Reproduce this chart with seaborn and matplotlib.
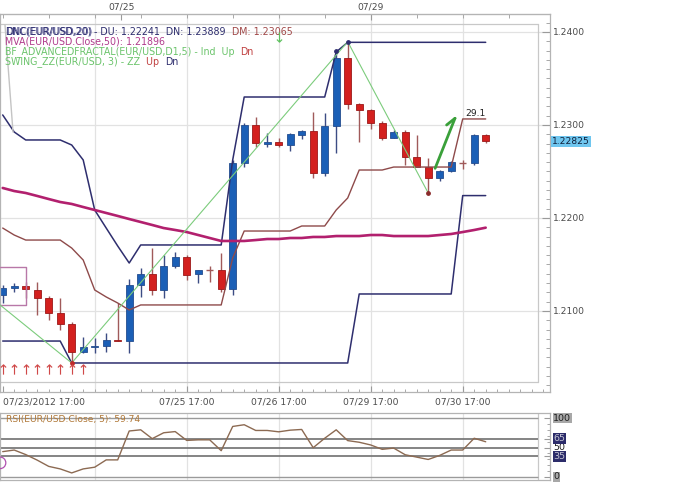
import matplotlib
matplotlib.use('Agg')
import matplotlib.pyplot as plt
import matplotlib.transforms as mtrans
from matplotlib.ticker import MultipleLocator
import numpy as np
import pandas as pd
import seaborn as sns

# EUR/USD 3-hour bars, bar 0 = 07/23/2012 17:00
OPEN = [1.21172, 1.21247, 1.21269, 1.21226, 1.21140, 1.20978, 1.20860, 1.20559, 1.20613, 1.20624,
        1.20688, 1.20677, 1.21280, 1.21398, 1.21226, 1.21484, 1.21581, 1.21398, 1.21441, 1.21441,
        1.21237, 1.22591, 1.23000, 1.22796, 1.22817, 1.22785, 1.22892, 1.22935, 1.22484, 1.22989,
        1.23720, 1.23226, 1.23161, 1.23022, 1.22860, 1.22925, 1.22656, 1.22548, 1.22430, 1.22505,
        1.22591, 1.22591, 1.22892]
HIGH = [1.21280, 1.21301, 1.21312, 1.21312, 1.21161, 1.21140, 1.20882, 1.20720, 1.20710, 1.20763,
        1.21086, 1.21344, 1.21462, 1.21677, 1.21602, 1.21634, 1.21602, 1.21441, 1.21484, 1.21624,
        1.22624, 1.23022, 1.23086, 1.22914, 1.22860, 1.22914, 1.22946, 1.23140, 1.23129, 1.23796,
        1.23896, 1.23237, 1.23172, 1.23043, 1.22946, 1.22946, 1.22892, 1.22645, 1.22516, 1.22613,
        1.22624, 1.22903, 1.22903]
LOW = [1.21086, 1.21204, 1.21140, 1.20957, 1.20903, 1.20796, 1.20441, 1.20548, 1.20548, 1.20559,
       1.20677, 1.20548, 1.21151, 1.21172, 1.21140, 1.21462, 1.21333, 1.21301, 1.21312, 1.21204,
       1.21172, 1.22548, 1.22763, 1.22763, 1.22763, 1.22720, 1.22849, 1.22430, 1.22452, 1.22699,
       1.23172, 1.22817, 1.22957, 1.22839, 1.22860, 1.22570, 1.22548, 1.22269, 1.22398, 1.22495,
       1.22527, 1.22570, 1.22806]
CLOSE = [1.21247, 1.21269, 1.21237, 1.21140, 1.20978, 1.20860, 1.20559, 1.20613, 1.20624, 1.20688,
         1.20677, 1.21280, 1.21398, 1.21226, 1.21484, 1.21581, 1.21387, 1.21441, 1.21441, 1.21237,
         1.22591, 1.23000, 1.22806, 1.22817, 1.22785, 1.22903, 1.22935, 1.22484, 1.22989, 1.23720,
         1.23226, 1.23161, 1.23022, 1.22860, 1.22925, 1.22656, 1.22548, 1.22430, 1.22505, 1.22602,
         1.22591, 1.22892, 1.22825]

# Donchian channel (20)
DC_UPPER = [1.23108, 1.22925, 1.22839, 1.22839, 1.22839, 1.22839, 1.22785, 1.22624, 1.22086, 1.21892,
            1.21699, 1.21516, 1.21710, 1.21710, 1.21710, 1.21710, 1.21710, 1.21710, 1.21710, 1.21710,
            1.22624, 1.23301, 1.23301, 1.23301, 1.23301, 1.23301, 1.23301, 1.23301, 1.23301, 1.23785,
            1.23889, 1.23889, 1.23889, 1.23889, 1.23889, 1.23889, 1.23889, 1.23889, 1.23889, 1.23889,
            1.23889, 1.23889, 1.23889]
DC_LOWER = [1.20677, 1.20677, 1.20677, 1.20677, 1.20677, 1.20677, 1.20441, 1.20441, 1.20441, 1.20441,
            1.20441, 1.20441, 1.20441, 1.20441, 1.20441, 1.20441, 1.20441, 1.20441, 1.20441, 1.20441,
            1.20441, 1.20441, 1.20441, 1.20441, 1.20441, 1.20441, 1.20441, 1.20441, 1.20441, 1.20441,
            1.20441, 1.21183, 1.21183, 1.21183, 1.21183, 1.21183, 1.21183, 1.21183, 1.21183, 1.21183,
            1.22241, 1.22241, 1.22241]
DC_MID = [1.21892, 1.21817, 1.21763, 1.21763, 1.21763, 1.21763, 1.21677, 1.21548, 1.21226, 1.21151,
          1.21086, 1.21011, 1.21065, 1.21065, 1.21065, 1.21065, 1.21065, 1.21065, 1.21065, 1.21065,
          1.21570, 1.21860, 1.21860, 1.21860, 1.21860, 1.21860, 1.21914, 1.21914, 1.21914, 1.22086,
          1.22215, 1.22516, 1.22516, 1.22516, 1.22548, 1.22548, 1.22548, 1.22548, 1.22548, 1.22548,
          1.23065, 1.23065, 1.23065]
MVA50 = [1.22323, 1.22290, 1.22269, 1.22237, 1.22204, 1.22172, 1.22151, 1.22118, 1.22086, 1.22054,
         1.22022, 1.21989, 1.21957, 1.21925, 1.21892, 1.21871, 1.21849, 1.21817, 1.21785, 1.21753,
         1.21753, 1.21753, 1.21763, 1.21774, 1.21774, 1.21785, 1.21785, 1.21796, 1.21796, 1.21806,
         1.21806, 1.21806, 1.21817, 1.21817, 1.21806, 1.21806, 1.21806, 1.21806, 1.21817, 1.21828,
         1.21849, 1.21871, 1.21896]
RSI5 = [43, 45.7, 38, 28.6, 18, 13.7, 6.9, 13.7, 16.6, 29, 29, 78, 80, 65, 75, 77, 62, 63, 63, 44.6,
        85.7, 88.6, 78.9, 78.9, 76.6, 79.4, 80.6, 49.7, 65.7, 80, 61.7, 58.9, 54.3, 46.9, 49, 37.7,
        33.7, 29.7, 36.6, 45.7, 45.7, 65.7, 59.74]

# swing zigzag vertices (bar, price)
ZZ_BAR = [-0.23, 6, 30, 37]
ZZ_PRICE = [1.21065, 1.20441, 1.23896, 1.22269]
FRACTAL_UP_BARS = [0, 1, 2, 3, 4, 5, 6, 7]
FRACTAL_UP_LEVEL = 1.20376
FRACTAL_DN_BAR = 24
FRACTAL_DN_LEVEL = 1.23946
PEN_BAR = [37.6, 39.33, 38.6]
PEN_PRICE = [1.22534, 1.23072, 1.23000]

BOTTOM_TICKS = [0, 16, 24, 32, 40]
BOTTOM_LABELS = ['07/23/2012 17:00', '07/25 17:00', '07/26 17:00', '07/29 17:00', '07/30 17:00']
TOP_TICKS = [10.33, 32]
TOP_LABELS = ['07/25', '07/29']
DAY_GRID = [8, 16, 24, 32, 40]
PRICE_TICKS = [1.21, 1.22, 1.23, 1.24]
RSI_TICKS = [0, 35, 50, 65, 100]

NAVY = '#2e2e6e'
BROWN = '#8e4a4a'
MAGENTA = '#b2206e'
ZZ_GREEN = '#7ccc7c'
UP_BLUE = '#1b5fb6'
DN_RED = '#d3201e'
GRID = '#e2e2e2'
BOX = '#c8c8c8'
LABEL = '#4a4a4a'

sns.set_style('white')
plt.rcParams['font.family'] = ['DejaVu Sans']
FS = 6.6
LEG_FS = 6.85

W, H = 690, 483
fig = plt.figure(figsize=(W / 100, H / 100), dpi=100)


def fig_rect(x0, y0, x1, y1):
    return [x0 / W, 1 - y1 / H, (x1 - x0) / W, (y1 - y0) / H]


# pixel -> data helpers for the price panel
def bx(px):
    return (px - 2.7) / 11.5


def py(y):
    return 1.24 - (y - 32) / 9300


ax = fig.add_axes(fig_rect(0, 14, 550, 392))
rax = fig.add_axes(fig_rect(0, 413, 550, 480))

bars = pd.DataFrame({'bar': np.arange(len(OPEN)), 'open': OPEN, 'high': HIGH,
                     'low': LOW, 'close': CLOSE})
up = bars['close'] > bars['open']
doji = bars['close'] == bars['open']

# grid and panel frame
for b in DAY_GRID:
    ax.axvline(b, color=GRID, lw=0.9, zorder=0)
    rax.axvline(b, color=GRID, lw=0.9, zorder=0)
for p in PRICE_TICKS:
    ax.axhline(p, color=GRID, lw=0.9, zorder=0)
ax.plot([bx(0), bx(538)], [py(24), py(24)], color=BOX, lw=0.9, zorder=1)
ax.plot([bx(0), bx(538)], [py(382), py(382)], color=BOX, lw=0.9, zorder=1)
ax.plot([bx(538), bx(538)], [py(24), py(382)], color=BOX, lw=0.9, zorder=1)

# candles
wick_col = np.where(up, '#3c4c84', '#a05a5a')
ax.vlines(bars['bar'], bars['low'], bars['high'], colors=wick_col, lw=1.0, zorder=2)
body = bars[~doji]
ax.bar(body['bar'], body['close'] - body['open'], bottom=body['open'], width=0.62,
       color=np.where(up[~doji], UP_BLUE, DN_RED),
       edgecolor=np.where(up[~doji], '#234c8e', '#9c1818'), lw=0.6, zorder=2.5)
dj = bars[doji]
ax.hlines(dj['close'], dj['bar'] - 0.3, dj['bar'] + 0.3, colors='#a05a5a', lw=1.0, zorder=2.5)

# indicators
sns.lineplot(x=bars['bar'], y=DC_UPPER, ax=ax, color=NAVY, linewidth=1.1, zorder=3)
sns.lineplot(x=bars['bar'], y=DC_LOWER, ax=ax, color=NAVY, linewidth=1.1, zorder=3)
sns.lineplot(x=bars['bar'], y=DC_MID, ax=ax, color=BROWN, linewidth=1.0, zorder=3)
sns.lineplot(x=bars['bar'], y=MVA50, ax=ax, color=MAGENTA, linewidth=1.9, zorder=3.2)
sns.lineplot(x=ZZ_BAR, y=ZZ_PRICE, ax=ax, color=ZZ_GREEN, linewidth=0.8, zorder=3.4, sort=False)

ax.scatter([29, 30], [HIGH[29], HIGH[30]], s=6, color=NAVY, zorder=4)
ax.scatter([37], [LOW[37]], s=6, color='#8a2a2a', zorder=4)
ax.scatter([6], [LOW[6]], s=6, color='#c02a2a', zorder=4)
ax.scatter(FRACTAL_UP_BARS, [FRACTAL_UP_LEVEL] * len(FRACTAL_UP_BARS), marker=r'$\uparrow$',
           s=55, color='#d04848', lw=0, zorder=4)
ax.scatter([FRACTAL_DN_BAR], [FRACTAL_DN_LEVEL], marker=r'$\downarrow$', s=55,
           color='#5cc05c', lw=0, zorder=4)
ax.plot(PEN_BAR[:2], PEN_PRICE[:2], color='#3aa03a', lw=2.0, solid_capstyle='round', zorder=4)
ax.plot(PEN_BAR[1:][::-1], PEN_PRICE[1:][::-1], color='#3aa03a', lw=2.0, solid_capstyle='round', zorder=4)
ax.text(bx(465), py(113), '29.1', fontsize=FS, color='#202020', ha='left', va='center', zorder=4)

# decorations at left edge
ax.plot([bx(0), bx(26), bx(26), bx(0)], [py(267), py(267), py(305), py(305)],
        color='#b878a8', lw=1.0, zorder=3)
ax.plot([bx(5), bx(13)], [py(25), py(132)], color='#c4c4c4', lw=1.0, zorder=3)

ax.set_xlim(bx(0), bx(550))
ax.set_ylim(py(392), py(14))
ax.set_xlabel('')
ax.set_ylabel('')

for side in ['top', 'bottom', 'left', 'right']:
    ax.spines[side].set_visible(True)
    ax.spines[side].set_color('#b4b4b4')
    ax.spines[side].set_linewidth(0.9)

ax.yaxis.tick_right()
ax.set_yticks(PRICE_TICKS)
ax.set_yticklabels([f'{p:.4f}' for p in PRICE_TICKS])
ax.yaxis.set_minor_locator(MultipleLocator(0.001))
ax.tick_params(axis='y', which='major', direction='in', length=6, width=0.8, color='#9a9a9a',
               pad=2, labelsize=FS, labelcolor=LABEL, left=False, right=True)
ax.tick_params(axis='y', which='minor', direction='in', length=3, width=0.7, color='#a8a8a8',
               left=False, right=True)

ax.set_xticks(BOTTOM_TICKS)
ax.set_xticklabels(BOTTOM_LABELS)
ax.get_xticklabels()[0].set_horizontalalignment('left')
ax.xaxis.set_minor_locator(MultipleLocator(1))
ax.tick_params(axis='x', which='major', direction='in', length=4, width=0.8, color='#9a9a9a',
               pad=4, labelsize=FS, labelcolor=LABEL, top=False, bottom=True)
ax.tick_params(axis='x', which='minor', direction='in', length=2.5, width=0.7, color='#a8a8a8',
               top=False, bottom=True)

top = ax.secondary_xaxis('top')
top.set_xticks(TOP_TICKS)
top.set_xticklabels(TOP_LABELS)
top.xaxis.set_minor_locator(MultipleLocator(4))
top.tick_params(which='major', direction='in', length=4, width=0.8, color='#9a9a9a', pad=1.5,
                labelsize=FS, labelcolor=LABEL)
top.tick_params(which='minor', direction='in', length=3, width=0.7, color='#a8a8a8')
top.spines['top'].set_color('#b4b4b4')

# last price tag
tr = mtrans.blended_transform_factory(ax.transAxes, ax.transData)
ax.text(1.003, CLOSE[-1], '1.22825', transform=tr, ha='left', va='center', fontsize=FS,
        color='#10203a', clip_on=False,
        bbox=dict(boxstyle='square,pad=0.12', fc='#6fc6ef', ec='none'))


# legend rows
def legend_row(x, y, parts):
    prev = fig.text(x / W, 1 - y / H, parts[0][0], color=parts[0][1], fontsize=LEG_FS,
                    ha='left', va='bottom')
    for s, c in parts[1:]:
        prev = ax.annotate(s, xy=(1, 0), xycoords=prev, color=c, fontsize=LEG_FS,
                           ha='left', va='bottom')
    return prev


fig.text(6.2 / W, 1 - 36.6 / H, 'DNC(EUR/USD,20)', color='#5a5a9a', fontsize=LEG_FS,
         ha='left', va='bottom')
legend_row(5, 36.6, [('DNC(EUR/USD,20)', NAVY), (' - DU: 1.22241  DN: 1.23889  ', NAVY),
                     ('DM: 1.23065', '#a04848')])
legend_row(5, 47, [('MVA(EUR/USD.Close,50): 1.21896', '#b03c8c')])
legend_row(5, 57.3, [('BF_ADVANCEDFRACTAL(EUR/USD,D1,5) - Ind  Up  ', '#6cc46c'),
                     ('Dn', '#c04040')])
legend_row(5, 67.3, [('SWING_ZZ(EUR/USD, 3) - ZZ  ', '#6cc46c'), ('Up  ', '#c04040'),
                     ('Dn', NAVY)])

# RSI panel
sns.lineplot(x=bars['bar'], y=RSI5, ax=rax, color='#8c6a52', linewidth=1.0, zorder=3)
rax.hlines([100, 0], bx(0), bx(538), color='#9a9a9a', lw=1.0, zorder=2)
rax.hlines([65, 50, 35], bx(0), bx(538), color='#707070', lw=1.2, zorder=2)
rax.axvline(bx(538), color=BOX, lw=0.9, zorder=1)
rax.scatter([bx(0)], [24], s=70, facecolor='none', edgecolor='#b050b0', lw=0.9, zorder=3)
rax.set_xlim(bx(0), bx(550))
rax.set_ylim(-5.1, 108.5)
rax.set_xlabel('')
rax.set_ylabel('')
rax.set_xticks([])
for side in ['top', 'bottom', 'left', 'right']:
    rax.spines[side].set_visible(True)
    rax.spines[side].set_color('#b4b4b4')
    rax.spines[side].set_linewidth(0.9)
rax.yaxis.tick_right()
rax.set_yticks(RSI_TICKS)
rax.set_yticklabels([])
rax.yaxis.set_minor_locator(MultipleLocator(10))
rax.tick_params(axis='y', which='major', direction='in', length=4, width=0.8, color='#9a9a9a',
                left=False, right=True)
rax.tick_params(axis='y', which='minor', direction='in', length=2, width=0.7, color='#a8a8a8',
                left=False, right=True)
rtr = mtrans.blended_transform_factory(rax.transAxes, rax.transData)
tag_style = {100: ('#a8a8a8', '#202020'), 65: ('#2c2c6a', '#c4c4d4'), 50: (None, '#202020'),
             35: ('#2c2c6a', '#c4c4d4'), 0: ('#a8a8a8', '#202020')}
for v in RSI_TICKS:
    fc, tc = tag_style[v]
    bbox = dict(boxstyle='square,pad=0.08', fc=fc, ec='none') if fc else None
    rax.text(1.006, v, str(v), transform=rtr, ha='left', va='center', fontsize=6.8,
             color=tc, clip_on=False, bbox=bbox)
rax.text(bx(6), 98, 'RSI(EUR/USD.Close, 5): 59.74', color='#b07838', fontsize=FS,
         ha='left', va='center')

fig.savefig('out.png', dpi=100)
